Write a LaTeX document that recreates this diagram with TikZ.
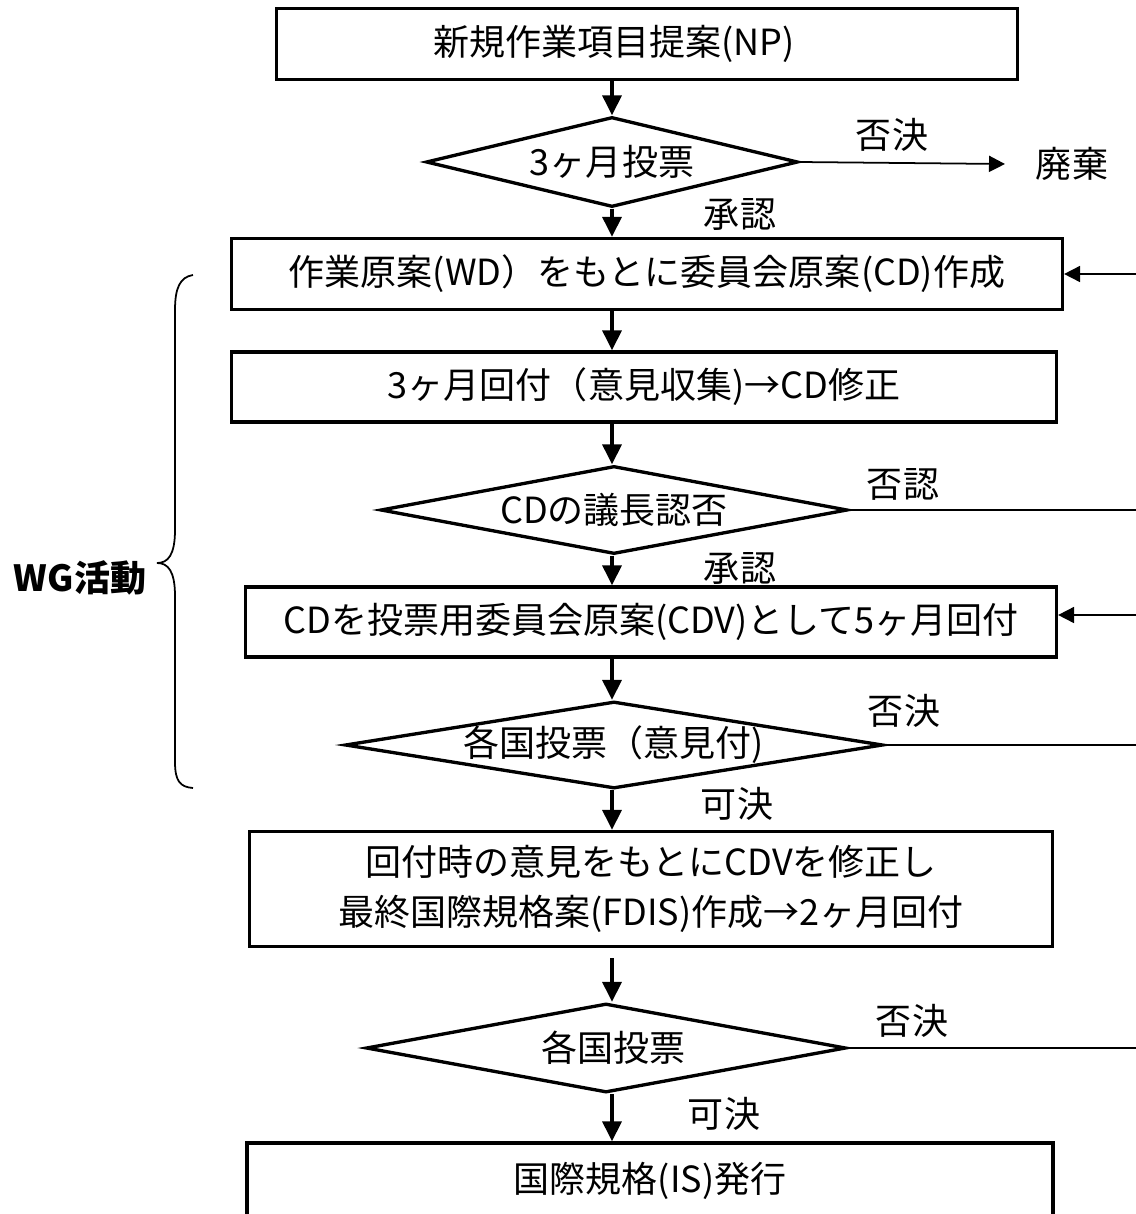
\documentclass[tikz,border=0pt]{standalone}
\usepackage{fontspec}
\setmainfont{Noto Sans CJK JP}
\usetikzlibrary{shapes.geometric,arrows.meta}
\begin{document}
\begin{tikzpicture}[x=0.02cm, y=-0.02cm, font=\fontsize{20.5}{28.5}\selectfont]
\tikzstyle{box}=[draw, line width=1.9pt, inner sep=0pt, align=center]
\tikzstyle{dia}=[draw, diamond, line width=1.9pt, inner sep=0pt]
\tikzstyle{lbl}=[draw=none, fill=none, inner sep=0pt]
\tikzstyle{flow}=[>={Triangle[length=0.4cm,width=0.38cm]}, ->, line width=1.9pt]
\tikzstyle{back}=[>={Triangle[length=0.32cm,width=0.32cm]}, line width=1pt]
\useasboundingbox (0,0) rectangle (1136,1214);

% main column
\node[box, minimum width=14.82cm, minimum height=1.42cm] (NP) at (647,44) {新規作業項目提案(NP)\hspace{1.32cm}};
\node[dia, aspect=4.13, minimum width=7.44cm, minimum height=1.8cm] (V1) at (612,162) {3ヶ月投票};
\node[lbl] (waste) at (1072,164) {廃棄};
\node[box, minimum width=16.62cm, minimum height=1.42cm] (CD) at (647,274) {作業原案(WD）をもとに委員会原案(CD)作成};
\node[box, minimum width=16.5cm, minimum height=1.4cm] (CIR) at (644,387) {3ヶ月回付（意見収集)→CD修正};
\node[dia, aspect=5.3, minimum width=9.34cm, minimum height=1.76cm] (V2) at (614,510) {CDの議長認否};
\node[box, minimum width=16.22cm, minimum height=1.4cm] (CDV) at (651,622) {CDを投票用委員会原案(CDV)として5ヶ月回付};
\node[dia, aspect=6.18, minimum width=10.76cm, minimum height=1.74cm] (V3) at (614,745) {各国投票（意見付)};
\node[box, minimum width=16.06cm, minimum height=2.3cm] (FDIS) at (651,889) {回付時の意見をもとにCDVを修正し\\最終国際規格案(FDIS)作成→2ヶ月回付};
\node[dia, aspect=5.4, minimum width=9.6cm, minimum height=1.78cm] (V4) at (606,1048) {\hspace{0.3cm}各国投票};
\node[box, minimum width=16.12cm, minimum height=1.52cm] (IS) at (650,1181) {国際規格(IS)発行};

% labels
\node[lbl] (no1) at (892,135) {否決};
\node[lbl] (ok1) at (740,214) {承認};
\node[lbl] (no2) at (903,484) {否認};
\node[lbl] (ok2) at (740,568) {承認};
\node[lbl] (no3) at (904,711) {否決};
\node[lbl] (ok3) at (737,804) {可決};
\node[lbl] (no4) at (912,1021) {否決};
\node[lbl] (ok4) at (724,1114) {可決};
\node[lbl, font=\fontsize{20.5}{28.5}\selectfont\bfseries] (wg) at (80,578) {WG活動};

\draw[flow] (NP.south -| V1) -- (V1.north);
\draw[flow] (V1.south) -- (CD.north -| V1);
\draw[flow] (CD.south -| V1) -- (CIR.north -| V1);
\draw[flow] (CIR.south -| V1) -- (V2.north -| V1);
\draw[flow] (V2.south -| V1) -- (CDV.north -| V1);
\draw[flow] (CDV.south -| V1) -- (V3.north -| V1);
\draw[flow] (V3.south -| V1) -- (FDIS.north -| V1);
\draw[flow, shorten <=0.2cm] (FDIS.south -| V1) -- (V4.north -| V1);
\draw[flow] (V4.south -| V1) -- (IS.north -| V1);

% returns off the right edge
\coordinate (r1) at (1140,274);
\coordinate (r2) at (1140,510);
\coordinate (r3) at (1140,615);
\coordinate (r4) at (1140,745);
\coordinate (r5) at (1140,1048);
\draw[back, ->] (V1.east) -- (waste.west -| 1005,0);
\draw[back, ->] (r1) -- (CD.east);
\draw[back] (V2.east) -- (r2);
\draw[back, ->] (r3) -- (r3 -| CDV.east);
\draw[back] (V3.east) -- (r4);
\draw[back] (V4.east) -- (r5);

% brace
\draw[back] (193,275) .. controls (180,277) and (175,288) .. (175,310) -- (175,530)
  .. controls (175,555) and (168,563) .. (157,563)
  .. controls (168,563) and (175,571) .. (175,596) -- (175,762)
  .. controls (175,781) and (180,787) .. (193,788);
\end{tikzpicture}
\end{document}
